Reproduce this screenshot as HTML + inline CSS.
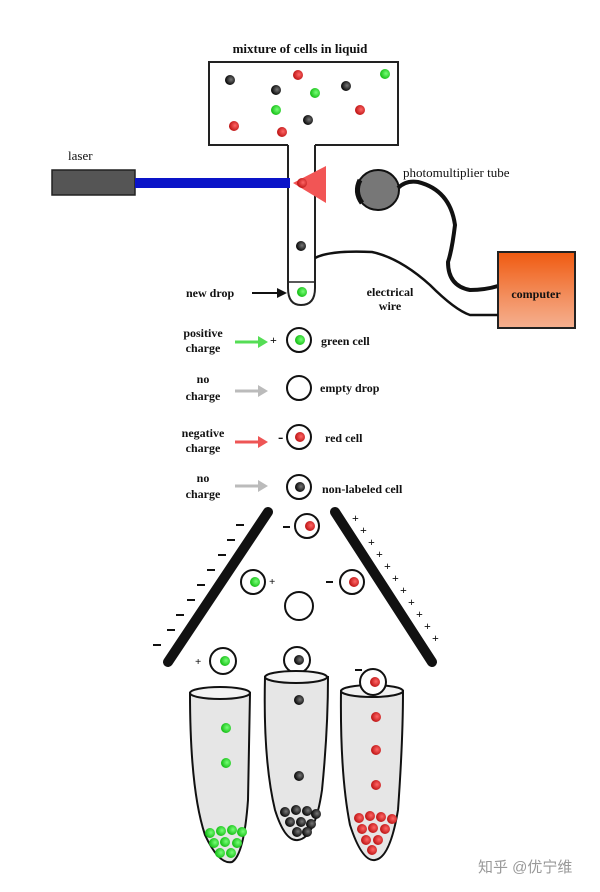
<!DOCTYPE html>
<html><head><meta charset="utf-8"><style>
html,body{margin:0;padding:0;background:#fff}
svg{display:block}
text{font-family:"Liberation Serif",serif;fill:#111}
</style></head><body>
<svg width="600" height="892" viewBox="0 0 600 892" xmlns="http://www.w3.org/2000/svg">
<defs>
<radialGradient id="g" cx="0.6" cy="0.45" r="0.6"><stop offset="0" stop-color="#7f7"/><stop offset="1" stop-color="#1b1"/></radialGradient>
<radialGradient id="r" cx="0.6" cy="0.45" r="0.6"><stop offset="0" stop-color="#f66"/><stop offset="1" stop-color="#b11"/></radialGradient>
<radialGradient id="k" cx="0.6" cy="0.45" r="0.6"><stop offset="0" stop-color="#777"/><stop offset="1" stop-color="#000"/></radialGradient>
<linearGradient id="comp" x1="0" y1="0" x2="0" y2="1"><stop offset="0" stop-color="#f05a10"/><stop offset="0.6" stop-color="#f39060"/><stop offset="1" stop-color="#f5b090"/></linearGradient>
</defs>

<!-- top chamber -->
<text x="300" y="53" font-size="13" font-weight="bold" text-anchor="middle">mixture of cells in liquid</text>
<path d="M288,145 H209 V62 H398 V145 H315" fill="none" stroke="#222" stroke-width="2"/>
<path d="M288,145 V288 Q288,305 301,305 Q315,305 315,288 V145" fill="none" stroke="#222" stroke-width="2"/>
<path d="M288,282 H315" stroke="#222" stroke-width="1.5"/>
<circle cx="302" cy="292" r="5" fill="url(#g)"/>
<g>
<circle cx="230" cy="80" r="5" fill="url(#k)"/>
<circle cx="298" cy="75" r="5" fill="url(#r)"/>
<circle cx="385" cy="74" r="5" fill="url(#g)"/>
<circle cx="276" cy="90" r="5" fill="url(#k)"/>
<circle cx="315" cy="93" r="5" fill="url(#g)"/>
<circle cx="346" cy="86" r="5" fill="url(#k)"/>
<circle cx="276" cy="110" r="5" fill="url(#g)"/>
<circle cx="360" cy="110" r="5" fill="url(#r)"/>
<circle cx="308" cy="120" r="5" fill="url(#k)"/>
<circle cx="234" cy="126" r="5" fill="url(#r)"/>
<circle cx="282" cy="132" r="5" fill="url(#r)"/>
<circle cx="301" cy="246" r="5" fill="url(#k)"/>
</g>
<!-- laser -->
<text x="68" y="160" font-size="13">laser</text>
<rect x="52" y="170" width="83" height="25" fill="#555" stroke="#222" stroke-width="1.5"/>
<rect x="135" y="178" width="155" height="10" fill="#0a14c8"/>
<polygon points="293,183 326,166 326,203" fill="#f25555"/>
<circle cx="302" cy="183" r="5" fill="url(#r)"/>
<!-- PMT -->
<ellipse cx="378" cy="190" rx="21" ry="20" fill="#777" stroke="#111" stroke-width="2"/>
<path d="M360,180 Q354,192 362,203" stroke="#111" stroke-width="5" fill="none"/>
<text x="403" y="177" font-size="13">photomultiplier tube</text>
<path d="M398,188 Q406,180 418,182 Q450,190 455,225 Q452,250 448,262 Q448,286 470,290 Q485,290 498,286" fill="none" stroke="#111" stroke-width="4"/>
<rect x="498" y="252" width="77" height="76" fill="url(#comp)" stroke="#222" stroke-width="2"/>
<text x="536" y="298" font-size="12" font-weight="bold" text-anchor="middle">computer</text>
<path d="M315,258 Q330,250 372,252 Q400,258 430,285 Q455,310 470,315 H498" fill="none" stroke="#111" stroke-width="2.5"/>
<text x="390" y="296" font-size="12" font-weight="bold" text-anchor="middle">electrical</text>
<text x="390" y="310" font-size="12" font-weight="bold" text-anchor="middle">wire</text>
<text x="186" y="297" font-size="12" font-weight="bold">new drop</text>
<path d="M252,293 H280" stroke="#111" stroke-width="2"/><polygon points="287,293 277,288 277,298" fill="#111"/>

<!-- rows -->
<g font-size="12" font-weight="bold">
<text x="203" y="337" text-anchor="middle">positive</text><text x="203" y="352" text-anchor="middle">charge</text>
<text x="203" y="383" text-anchor="middle">no</text><text x="203" y="400" text-anchor="middle">charge</text>
<text x="203" y="437" text-anchor="middle">negative</text><text x="203" y="452" text-anchor="middle">charge</text>
<text x="203" y="482" text-anchor="middle">no</text><text x="203" y="498" text-anchor="middle">charge</text>
<text x="321" y="345">green cell</text>
<text x="320" y="392">empty drop</text>
<text x="325" y="442">red cell</text>
<text x="322" y="493">non-labeled cell</text>
</g>
<g stroke-width="3">
<path d="M235,342 H260" stroke="#55dd55"/><polygon points="268,342 258,336 258,348" fill="#55dd55"/>
<path d="M235,391 H260" stroke="#bbb"/><polygon points="268,391 258,385 258,397" fill="#bbb"/>
<path d="M235,442 H260" stroke="#e55"/><polygon points="268,442 258,436 258,448" fill="#e55"/>
<path d="M235,486 H260" stroke="#bbb"/><polygon points="268,486 258,480 258,492" fill="#bbb"/>
</g>
<text x="270" y="344" font-size="12" font-weight="bold">+</text>
<text x="278" y="442" font-size="16" font-weight="bold">-</text>
<g fill="#fff" stroke="#111" stroke-width="2">
<circle cx="299" cy="340" r="12"/><circle cx="299" cy="388" r="12"/><circle cx="299" cy="437" r="12"/><circle cx="299" cy="487" r="12"/>
</g>
<circle cx="300" cy="340" r="5" fill="url(#g)"/>
<circle cx="300" cy="437" r="5" fill="url(#r)"/>
<circle cx="300" cy="487" r="5" fill="url(#k)"/>

<!-- plates -->
<path d="M268,512 L168,662" stroke="#111" stroke-width="10" stroke-linecap="round"/>
<path d="M335,512 L432,662" stroke="#111" stroke-width="10" stroke-linecap="round"/>
<g stroke="#111" stroke-width="2">
<path d="M236,525h8M227,540h8M218,555h8M207,570h8M197,585h8M187,600h8M176,615h8M167,630h8M153,645h8"/>
</g>
<g font-size="12" font-weight="bold">
<text x="352" y="522">+</text><text x="360" y="534">+</text><text x="368" y="546">+</text><text x="376" y="558">+</text><text x="384" y="570">+</text><text x="392" y="582">+</text><text x="400" y="594">+</text><text x="408" y="606">+</text><text x="416" y="618">+</text><text x="424" y="630">+</text><text x="432" y="642">+</text>
</g>
<!-- falling drops -->
<g fill="#fff" stroke="#111" stroke-width="2">
<circle cx="307" cy="526" r="12"/><circle cx="253" cy="582" r="12"/><circle cx="352" cy="582" r="12"/><circle cx="299" cy="606" r="14"/><circle cx="223" cy="661" r="13"/><circle cx="297" cy="660" r="13"/>
</g>
<circle cx="310" cy="526" r="5" fill="url(#r)"/>
<circle cx="255" cy="582" r="5" fill="url(#g)"/>
<circle cx="354" cy="582" r="5" fill="url(#r)"/>
<circle cx="225" cy="661" r="5" fill="url(#g)"/>
<circle cx="299" cy="660" r="5" fill="url(#k)"/>
<g stroke="#111" stroke-width="2"><path d="M283,527h7M326,582h7M355,670h7"/></g>
<text x="269" y="585" font-size="11" font-weight="bold">+</text>
<text x="195" y="665" font-size="11" font-weight="bold">+</text>

<!-- tubes -->
<g stroke="#111" stroke-width="2" fill="#e6e6e6">
<path d="M190,693 Q190,790 205,835 Q219,865 232,862 Q244,855 248,800 Q249,745 250,693 Z"/>
<ellipse cx="220" cy="693" rx="30" ry="6" fill="#f2f2f2"/>
<path d="M265,677 Q263,760 275,810 Q285,842 298,840 Q315,838 322,790 Q328,730 328,677 Z"/>
<ellipse cx="296" cy="677" rx="31" ry="6" fill="#f2f2f2"/>
<path d="M341,691 Q340,775 350,825 Q362,862 375,860 Q390,858 398,810 Q403,740 403,691 Z"/>
<ellipse cx="372" cy="691" rx="31" ry="6" fill="#f2f2f2"/>
</g>
<circle cx="373" cy="682" r="13" fill="#fff" stroke="#111" stroke-width="2"/>
<circle cx="375" cy="682" r="5" fill="url(#r)"/>
<g>
<circle cx="226" cy="728" r="5" fill="url(#g)"/><circle cx="226" cy="763" r="5" fill="url(#g)"/>
<circle cx="299" cy="700" r="5" fill="url(#k)"/><circle cx="299" cy="776" r="5" fill="url(#k)"/>
<circle cx="376" cy="717" r="5" fill="url(#r)"/><circle cx="376" cy="750" r="5" fill="url(#r)"/><circle cx="376" cy="785" r="5" fill="url(#r)"/>
</g>
<g fill="url(#g)">
<circle cx="210" cy="833" r="5"/><circle cx="221" cy="831" r="5"/><circle cx="232" cy="830" r="5"/><circle cx="242" cy="832" r="5"/><circle cx="214" cy="843" r="5"/><circle cx="225" cy="842" r="5"/><circle cx="237" cy="843" r="5"/><circle cx="220" cy="853" r="5"/><circle cx="231" cy="853" r="5"/>
</g>
<g fill="url(#k)">
<circle cx="285" cy="812" r="5"/><circle cx="296" cy="810" r="5"/><circle cx="307" cy="811" r="5"/><circle cx="316" cy="814" r="5"/><circle cx="290" cy="822" r="5"/><circle cx="301" cy="822" r="5"/><circle cx="311" cy="824" r="5"/><circle cx="297" cy="832" r="5"/><circle cx="307" cy="832" r="5"/>
</g>
<g fill="url(#r)">
<circle cx="359" cy="818" r="5"/><circle cx="370" cy="816" r="5"/><circle cx="381" cy="817" r="5"/><circle cx="392" cy="819" r="5"/><circle cx="362" cy="829" r="5"/><circle cx="373" cy="828" r="5"/><circle cx="385" cy="829" r="5"/><circle cx="366" cy="840" r="5"/><circle cx="378" cy="840" r="5"/><circle cx="372" cy="850" r="5"/>
</g>
<text x="478" y="872" font-size="15" style="font-family:'Liberation Sans','Noto Sans CJK SC',sans-serif;fill:#999">知乎 @优宁维</text>
</svg>
</body></html>
